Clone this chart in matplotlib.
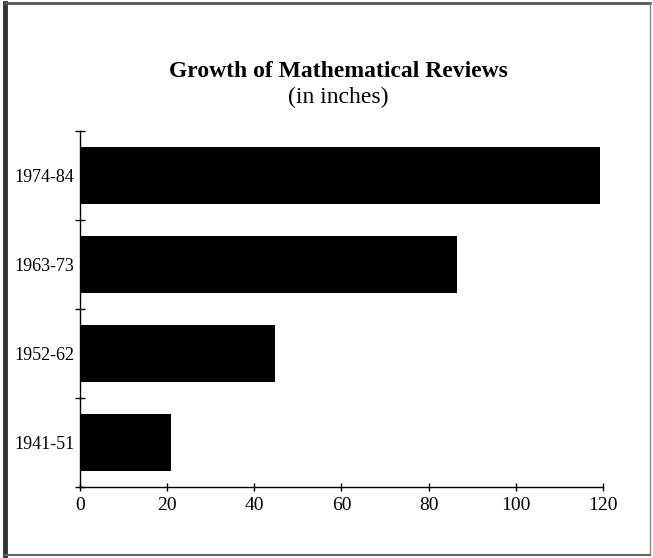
import matplotlib
matplotlib.use('Agg')
import matplotlib.pyplot as plt
from matplotlib.lines import Line2D

# 数据
periods = ['1941-51', '1952-62', '1963-73', '1974-84']
inches = [20.8, 44.7, 86.5, 119.4]
x_ticks = [0, 20, 40, 60, 80, 100, 120]

plt.rcParams['font.family'] = ['Liberation Serif', 'DejaVu Serif']

fig = plt.figure(figsize=(6.53, 5.58), dpi=100)
ax = fig.add_axes([0.1225, 0.1272, 0.8009, 0.638])

# 横向条形图
ax.barh(range(len(periods)), inches, height=0.63, color='black')

ax.set_xlim(0, 120)
ax.set_ylim(-0.5, len(periods) - 0.5)

# 坐标轴刻度
ax.set_xticks(x_ticks)
ax.set_xticklabels([str(t) for t in x_ticks], fontsize=14)
ax.set_yticks(range(len(periods)))
ax.set_yticklabels(periods, fontsize=13)
ax.tick_params(axis='y', which='major', length=0, pad=4)
ax.set_yticks([i - 0.5 for i in range(len(periods) + 1)], minor=True)
ax.tick_params(axis='y', which='minor', direction='inout', length=7, width=1)
ax.tick_params(axis='x', which='major', direction='inout', length=6, width=1, pad=4)

for side in ['top', 'right']:
    ax.spines[side].set_visible(False)
for side in ['left', 'bottom']:
    ax.spines[side].set_linewidth(1)

# 标题
fig.text(0.518, 0.872, 'Growth of Mathematical Reviews', ha='center', va='center',
         fontsize=17, fontweight='bold')
fig.text(0.518, 0.826, '(in inches)', ha='center', va='center', fontsize=17)

# 扫描图片的边框
fig.add_artist(Line2D([0.008, 0.008], [0.005, 0.995], color='#333333', linewidth=3.5))
fig.add_artist(Line2D([0.008, 0.996], [0.994, 0.994], color='#555555', linewidth=2))
fig.add_artist(Line2D([0.996, 0.996], [0.005, 0.994], color='#888888', linewidth=1))
fig.add_artist(Line2D([0.008, 0.996], [0.006, 0.006], color='#666666', linewidth=1.5))

fig.savefig('out.png', dpi=100)
